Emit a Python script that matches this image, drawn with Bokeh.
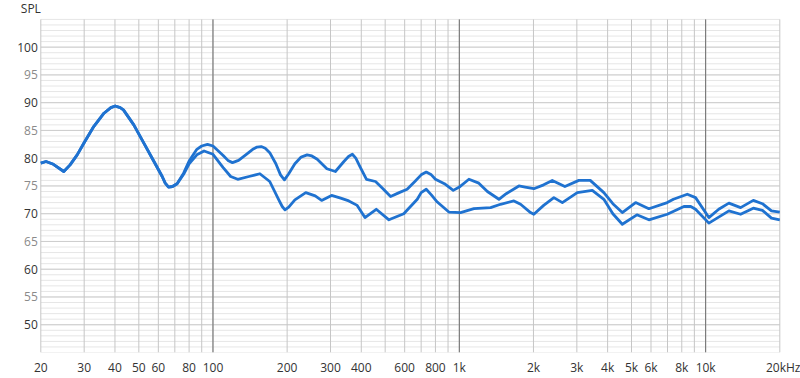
from bokeh.plotting import figure
from bokeh.models import Range1d, FixedTicker, ColumnDataSource
from bokeh.core.properties import value
from bokeh.embed import file_html
from bokeh.resources import INLINE

# ---- data ----
freq_upper = [20, 21, 22.5, 24.8, 26.3, 28.1, 29.9, 32.8, 36.1, 38.5, 40.1, 42, 43.3, 47.7, 52.4,
              57.6, 62.2, 64, 66.0, 68.5, 71.5, 76, 80, 86, 90, 95, 100, 110, 115, 120, 127, 135,
              145, 151, 157, 163, 170, 180, 188, 195, 203, 215, 228, 241, 252, 265, 290, 314,
              340, 355, 368, 380, 395, 420, 457, 490, 526, 570, 614, 660, 700, 734, 770, 800,
              870, 945, 1000, 1094, 1200, 1300, 1448, 1550, 1745, 1850, 2007, 2200, 2384,
              2683, 3057, 3400, 3862, 4200, 4588, 5195, 5882, 6985, 7400, 8424, 9100, 10305,
              11300, 12427, 13864, 15610, 17000, 18500, 20000]
spl_upper = [79.1, 79.4, 78.9, 77.6, 78.8, 80.6, 82.7, 85.7, 88.1, 89.1, 89.4, 89.1, 88.7, 86.0,
             82.7, 79.4, 76.7, 75.5, 74.8, 74.9, 75.4, 77.3, 79.5, 81.6, 82.2, 82.5, 82.2, 80.5,
             79.6, 79.2, 79.6, 80.5, 81.6, 82.0, 82.1, 81.8, 81.0, 79.0, 77.0, 76.1, 77.2,
             79.0, 80.2, 80.6, 80.4, 79.8, 78.1, 77.6, 79.4, 80.3, 80.7, 80.0, 78.5, 76.2,
             75.8, 74.5, 73.1, 73.8, 74.4, 75.8, 77.0, 77.5, 77.0, 76.2, 75.4, 74.2, 74.8,
             76.2, 75.5, 74.0, 72.6, 73.6, 75.0, 74.8, 74.5, 75.2, 76.0, 74.9, 76.0, 76.0,
             73.8, 71.8, 70.2, 72.0, 70.9, 72.0, 72.6, 73.5, 72.9, 69.3, 70.8, 71.9, 71.1,
             72.4, 71.8, 70.5, 70.3]

freq_lower = [20, 21, 22.5, 24.8, 26.3, 28.1, 29.9, 32.8, 36.1, 38.5, 40.1, 42, 43.3, 47.7, 52.4,
              57.6, 62.2, 64, 66.0, 68.5, 71.5, 76, 80, 86, 92, 100, 110, 118, 126, 140, 155,
              170, 185, 191, 196, 203, 215, 238, 260, 276, 303, 330, 356, 385, 414, 460, 518,
              595, 675, 700, 734, 770, 814, 907, 1012, 1146, 1340, 1470, 1666, 1773, 1946,
              2007, 2200, 2420, 2620, 3012, 3466, 3862, 4200, 4588, 5260, 5882, 6985, 8162,
              8700, 9100, 10305, 12427, 13864, 15610, 17000, 18500, 20000]
spl_lower = [79.1, 79.4, 78.9, 77.6, 78.8, 80.6, 82.7, 85.7, 88.1, 89.1, 89.4, 89.1, 88.7, 86.0,
             82.7, 79.4, 76.7, 75.5, 74.8, 74.9, 75.4, 77.1, 79.0, 80.6, 81.3, 80.7, 78.3,
             76.7, 76.2, 76.7, 77.2, 75.8, 72.5, 71.3, 70.7, 71.2, 72.5, 73.8, 73.2, 72.4,
             73.3, 72.8, 72.3, 71.5, 69.3, 70.8, 68.9, 70.0, 72.6, 73.8, 74.4, 73.4, 72.1,
             70.3, 70.2, 70.9, 71.1, 71.7, 72.3, 71.7, 70.2, 69.9, 71.5, 72.9, 72.0, 73.8,
             74.2, 72.6, 70.0, 68.1, 69.8, 68.9, 69.9, 71.3, 71.3, 70.8, 68.3, 70.5, 69.9,
             71.0, 70.6, 69.2, 68.9]

x_ticks = [20, 30, 40, 50, 60, 80, 100, 200, 300, 400, 600, 800, 1000, 2000, 3000,
           4000, 5000, 6000, 8000, 10000, 20000]
x_tick_labels = ["20", "30", "40", "50", "60", "80", "100", "200", "300", "400", "600",
                 "800", "1k", "2k", "3k", "4k", "5k", "6k", "8k", "10k",
                 "\u00a0\u00a0\u00a020kHz"]
x_grid = [20, 30, 40, 50, 60, 70, 80, 90, 100, 200, 300, 400, 500, 600, 700, 800, 900,
          1000, 2000, 3000, 4000, 5000, 6000, 7000, 8000, 9000, 10000, 20000]
x_grid_dark = [100, 1000, 10000]
y_major_ticks = [50, 60, 70, 80, 90, 100]
y_minor_ticks = [55, 65, 75, 85, 95]
y_grid_fine = list(range(45, 106))
y_axis_title = "SPL"

F_MIN, F_MAX = 20, 20000
SPL_MIN, SPL_MAX = 45, 105

# ---- layout (frame spans the whole canvas except the bottom axis) ----
W, H = 800, 378
PLOT_LEFT, PLOT_RIGHT, PLOT_TOP, PLOT_BOTTOM = 40.3, 779.3, 19, 354
px_per_decade = (PLOT_RIGHT - PLOT_LEFT) / 3.0
px_per_db = (PLOT_BOTTOM - PLOT_TOP) / (SPL_MAX - SPL_MIN)
x_start = F_MIN / 10 ** (PLOT_LEFT / px_per_decade)
x_end = F_MAX * 10 ** ((W - PLOT_RIGHT) / px_per_decade)
y_end = SPL_MAX + PLOT_TOP / px_per_db

FONT = "Open Sans"
BLUE = "#1f72d0"

p = figure(width=W, height=H, x_axis_type="log", y_axis_location=None, title=None,
           output_backend="svg", toolbar_location=None,
           x_range=Range1d(x_start, x_end), y_range=Range1d(SPL_MIN, y_end),
           min_border_left=0, min_border_right=0, min_border_top=0, min_border_bottom=24)
p.outline_line_color = None
p.grid.visible = False
p.background_fill_color = "white"
p.border_fill_color = "white"

# grid lines limited to the plot area
fine = ColumnDataSource(dict(y=y_grid_fine))
p.segment(x0=F_MIN, x1=F_MAX, y0="y", y1="y", source=fine, line_color="#e6e6e6", line_width=1)
five = ColumnDataSource(dict(y=y_major_ticks + y_minor_ticks))
p.segment(x0=F_MIN, x1=F_MAX, y0="y", y1="y", source=five, line_color="#cdcdcd", line_width=1)
vg = ColumnDataSource(dict(x=x_grid))
p.segment(x0="x", x1="x", y0=SPL_MIN, y1=SPL_MAX, source=vg, line_color="#c6c6c6", line_width=1)
vgd = ColumnDataSource(dict(x=x_grid_dark))
p.segment(x0="x", x1="x", y0=SPL_MIN, y1=SPL_MAX, source=vgd, line_color="#6f6f6f", line_width=1)

# x axis
xa = p.xaxis[0]
xa.ticker = FixedTicker(ticks=x_ticks)
xa.major_label_overrides = {t: l for t, l in zip(x_ticks, x_tick_labels)}
xa.axis_line_color = None
xa.major_tick_line_color = None
xa.minor_tick_line_color = None
xa.major_tick_out = 0
xa.major_tick_in = 0
xa.major_label_text_font = FONT
xa.major_label_text_font_size = "12px"
xa.major_label_text_color = "#333333"
xa.major_label_standoff = 6

# y tick labels as text next to the plot area
p.text(x=[F_MIN] * len(y_major_ticks), y=y_major_ticks, text=[str(v) for v in y_major_ticks],
       x_offset=-3, text_align="right", text_baseline="middle", text_font=value(FONT),
       text_font_size="12px", text_color="#333333")
p.text(x=[F_MIN] * len(y_minor_ticks), y=y_minor_ticks, text=[str(v) for v in y_minor_ticks],
       x_offset=-3, text_align="right", text_baseline="middle", text_font=value(FONT),
       text_font_size="12px", text_color="#8a8a8a")
p.text(x=[F_MIN], y=[SPL_MAX], text=[y_axis_title], x_offset=-20, y_offset=-11,
       text_align="left", text_baseline="middle", text_font=value(FONT),
       text_font_size="12px", text_color="#333333")

p.line(freq_upper, spl_upper, line_color=BLUE, line_width=2.8, line_join="round")
p.line(freq_lower, spl_lower, line_color=BLUE, line_width=2.8, line_join="round")

open("out.html", "w").write(file_html(p, INLINE))
